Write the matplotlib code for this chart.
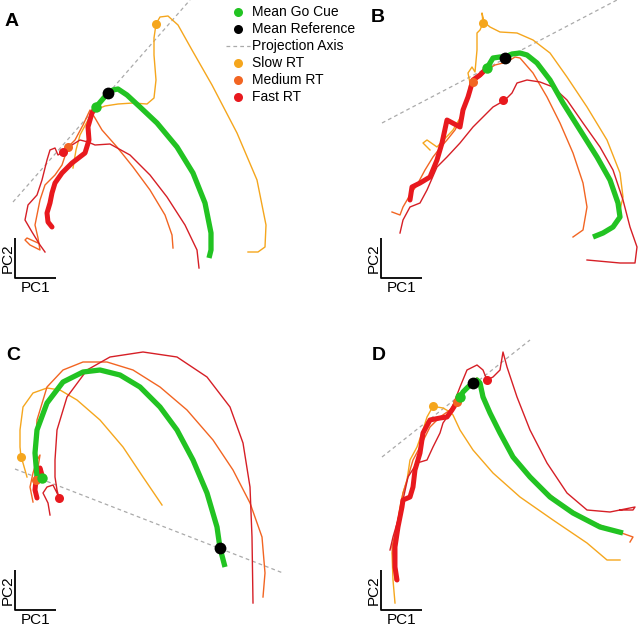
import numpy as np
import matplotlib.pyplot as plt

plt.rcParams['font.family'] = ['Liberation Sans', 'DejaVu Sans']

GREEN = '#22c322'
SLOW = '#f5a61d'
MEDIUM = '#f26522'
FAST = '#e8191e'
FAST_LINE = '#d61f26'
DASH = '#aaaaaa'

# trajectories in PC1/PC2 plane (panel units, y grows downwards), go cue index after each
a_mean = [(52,227),(48,222),(47,213),(50,203),(52,193),(55,183),(62,173),(72,163),(85,153),(89,140),(88,127),(92,113),(96,107),
          (102,100),(108,93),(113,90),(118,89),(127,95),(140,107),(157,123),(177,147),(193,173),(205,203),(211,233),(211,250),(209,258)]
a_mean_go = 12
a_ref = (108, 93)
a_slow = [(73,168),(76,150),(80,135),(88,120),(95,110),(105,106),(118,104),(133,103),(147,104),(154,98),(156,80),(154,55),(154,38),(156,24),
          (160,17),(168,16),(178,25),(192,50),(212,85),(237,133),(257,180),(266,225),(265,247),(258,252),(248,252)]
a_slow_go = 13
a_medium = [(38,243),(27,238),(25,240),(30,245),(40,250),(38,238),(35,225),(40,200),(45,185),(55,175),(62,165),(68,147),
            (75,140),(83,125),(90,110),(95,118),(102,130),(117,147),(133,167),(150,190),(165,215),(172,235),(173,248)]
a_medium_go = 11
a_fast = [(45,252),(40,245),(32,232),(25,220),(28,205),(37,195),(42,180),(47,160),(50,150),(55,148),(58,155),(63,152),
          (72,145),(80,140),(88,142),(95,145),(110,144),(130,155),(150,175),(167,197),(185,225),(197,250),(199,268)]
a_fast_go = 11
a_axis = [(13,202),(190,0)]

b_mean = [(90,200),(92,187),(100,183),(110,177),(117,160),(122,143),(127,120),(140,127),(143,110),(148,97),(153,80),(160,75),(167,68),
          (170,63),(173,58),(180,57),(185,57),(192,54),(200,53),(207,55),(217,63),(230,80),(243,103),(260,130),(277,157),(290,180),
          (298,203),(300,217),(293,227),(283,233),(273,237)]
b_mean_go = 12
b_ref = (185, 58)
b_slow = [(110,150),(103,143),(107,140),(117,147),(133,130),(143,113),(147,100),(150,83),(148,73),(152,67),(155,72),(157,50),(157,33),
          (160,30),(163,23),(162,13),(164,22),(170,27),(180,32),(197,33),(213,40),(230,53),(247,77),(267,107),(287,140),(300,173),
          (303,197),(300,210)]
b_slow_go = 14
b_medium = [(72,212),(80,215),(83,207),(90,195),(97,185),(105,170),(113,157),(120,148),(127,140),(135,130),(143,115),(147,100),(152,85),
            (153,82),(160,77),(167,70),(175,65),(187,62),(195,57),(200,58),(213,73),(227,97),(240,123),(253,153),(263,183),(267,207),
            (263,230),(253,237)]
b_medium_go = 13
b_fast = [(80,233),(83,220),(90,207),(100,203),(107,190),(117,167),(127,157),(140,143),(153,127),(167,113),(173,107),(180,103),(183,100),
          (187,98),(192,93),(197,83),(207,80),(220,82),(233,87),(247,100),(263,123),(280,147),(293,170),(303,200),(310,227),(317,247),
          (315,263),(300,263),(267,260)]
b_fast_go = 12
b_axis = [(62,123),(297,0)]

c_mean = [(37,178),(35,170),(36,160),(40,148),(42,155),(42,158),
          (37,157),(35,133),(37,110),(47,83),(63,62),(83,52),(100,50),(120,55),(140,67),(160,87),(177,110),(193,140),(207,173),
          (217,207),(220,228),(225,247)]
c_mean_go = 5
c_ref = (220, 228)
c_slow = [(27,157),(25,150),(23,143),(21,137),
          (20,127),(20,110),(23,87),(33,73),(47,68),(60,70),(77,80),(100,100),(123,127),(143,157),(162,185)]
c_slow_go = 3
c_medium = [(33,182),(30,167),(33,153),(37,140),(40,135),(36,160),
            (35,133),(37,100),(47,67),(63,50),(83,42),(107,42),(133,50),(160,67),(187,90),(213,120),(233,150),(250,183),(262,217),
            (265,253),(263,277)]
c_medium_go = 5
c_fast = [(50,195),(48,183),(43,173),(47,167),(53,165),(57,173),(59,178),
          (57,170),(55,157),(55,140),(57,110),(67,77),(87,50),(110,37),(143,32),(177,37),(207,57),(230,87),(243,123),(250,167),
          (252,217),(253,283)]
c_fast_go = 6
c_axis = [(15,149),(283,253)]

d_mean = [(77,260),(75,247),(75,227),(78,207),(82,187),(83,180),(90,177),(93,167),(95,150),(100,133),(103,113),(110,100),(120,98),
          (127,97),(132,90),(137,82),(140,77),
          (143,72),(148,67),(153,63),(157,60),(160,63),(163,77),(170,93),(180,113),(193,137),(210,157),(230,177),(253,193),(280,207),
          (303,213)]
d_mean_go = 16
d_ref = (153, 63)
d_slow = [(75,283),(73,260),(72,233),(77,207),(80,187),(83,173),(87,160),(90,140),(97,127),(103,110),(107,97),(112,88),(113,86),
          (117,87),(123,88),(130,92),(133,95),(140,110),(153,130),(173,153),(200,177),(233,200),(267,223),(287,240),(300,240)]
d_slow_go = 12
d_medium = [(75,260),(72,227),(78,200),(83,173),(88,157),(93,140),(100,127),(110,107),(120,97),(130,90),(137,82),
            (143,73),(150,65),(157,58),(162,67),(167,87),(177,110),(193,137),(213,160),(240,183),(267,200),(293,210),(313,217),(310,222)]
d_medium_go = 10
d_fast = [(70,230),(73,217),(78,200),(83,180),(88,157),(97,143),(107,140),(113,127),(120,113),(123,103),(130,93),(140,67),(147,50),
          (157,45),(163,50),(167,60),
          (173,57),(180,50),(183,32),(187,47),(197,77),(210,110),(227,143),(247,173),(267,190),(290,192),(315,187),(313,190),(300,190)]
d_fast_go = 15
d_axis = [(62,137),(210,20)]

panels = [
    ('A', (0, 0), a_mean, a_mean_go, a_ref, a_slow, a_slow_go, a_medium, a_medium_go, a_fast, a_fast_go, a_axis),
    ('B', (320, 0), b_mean, b_mean_go, b_ref, b_slow, b_slow_go, b_medium, b_medium_go, b_fast, b_fast_go, b_axis),
    ('C', (0, 320), c_mean, c_mean_go, c_ref, c_slow, c_slow_go, c_medium, c_medium_go, c_fast, c_fast_go, c_axis),
    ('D', (320, 320), d_mean, d_mean_go, d_ref, d_slow, d_slow_go, d_medium, d_medium_go, d_fast, d_fast_go, d_axis),
]
label_pos = {'A': (12, 22), 'B': (58, 18), 'C': (13, 35), 'D': (59, 35)}
bar_pos = {'A': (15, 278), 'B': (61, 278), 'C': (15, 290), 'D': (61, 290)}

W, H = 640, 628
fig = plt.figure(figsize=(6.4, 6.28), dpi=100)

for name, (ox, oy), mean, mgo, ref, slow, sgo, med, mdgo, fast, fgo, axis in panels:
    ax = fig.add_axes([ox / W, 1 - (oy + 308) / H, 320 / W, 308 / H])
    ax.set_xlim(0, 320)
    ax.set_ylim(308, 0)
    ax.axis('off')

    x, y = zip(*axis)
    ax.plot(x, y, ls=(0, (3, 2.5)), color=DASH, lw=0.9, zorder=1)

    for traj, col in [(slow, SLOW), (med, MEDIUM), (fast, FAST_LINE)]:
        x, y = np.array(traj).T
        ax.plot(x, y, color=col, lw=1.0, solid_joinstyle='round', zorder=2)

    m = np.array(mean)
    ax.plot(m[:mgo + 1, 0], m[:mgo + 1, 1], color=FAST, lw=3.6, solid_capstyle='round', solid_joinstyle='round', zorder=3)
    ax.plot(m[mgo:, 0], m[mgo:, 1], color=GREEN, lw=3.8, solid_capstyle='butt', solid_joinstyle='round', zorder=3)

    for traj, go, col in [(slow, sgo, SLOW), (med, mdgo, MEDIUM), (fast, fgo, FAST)]:
        ax.plot(*traj[go], 'o', color=col, ms=6.5, mec='none', zorder=4)
    ax.plot(*m[mgo], 'o', color=GREEN, ms=7.5, mec='none', zorder=5)
    ax.plot(*ref, 'o', color='black', ms=8.5, mec='none', zorder=5)

    lx, ly = label_pos[name]
    ax.text(lx, ly, name, fontsize=14, fontweight='bold', ha='center', va='center')
    bx, by = bar_pos[name]
    ax.plot([bx, bx, bx + 41], [by - 40, by, by], color='black', lw=1.3, solid_capstyle='butt', zorder=6)
    ax.text(bx - 7, by - 20, 'PC2', rotation=90, fontsize=11, ha='center', va='center')
    ax.text(bx + 21, by + 10, 'PC1', fontsize=11, ha='center', va='center')

# legend
lg = fig.add_axes([0, 0, 1, 1])
lg.set_xlim(0, W)
lg.set_ylim(H, 0)
lg.axis('off')
legend_items = [('Mean Go Cue', GREEN, 'dot'), ('Mean Reference', 'black', 'dot'), ('Projection Axis', DASH, 'dash'),
                ('Slow RT', SLOW, 'dot'), ('Medium RT', MEDIUM, 'dot'), ('Fast RT', FAST, 'dot')]
for i, (txt, col, kind) in enumerate(legend_items):
    yy = 12 + i * 17
    if kind == 'dot':
        lg.plot(238, yy, 'o', color=col, ms=6.5, mec='none')
    else:
        lg.plot([226, 250], [yy, yy], ls=(0, (3, 2.5)), color=col, lw=0.9)
    lg.text(252, yy, txt, fontsize=10, ha='left', va='center')

fig.savefig('out.png', dpi=100)
